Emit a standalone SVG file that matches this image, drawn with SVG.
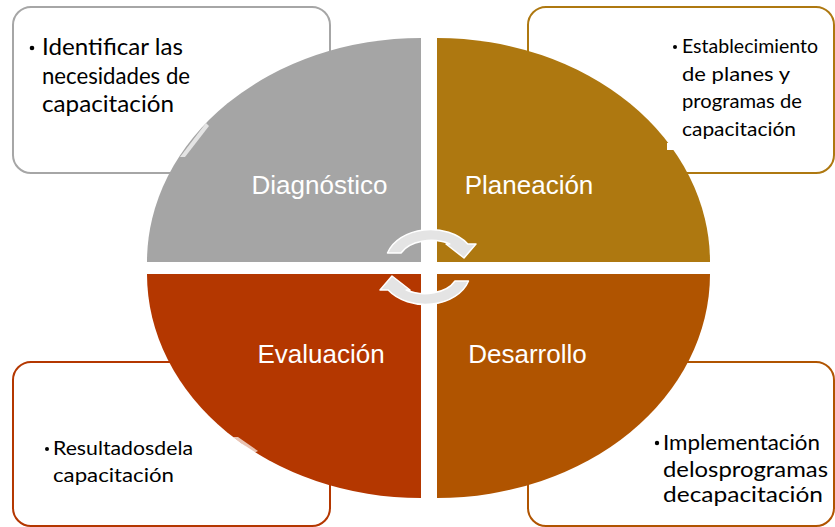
<svg xmlns="http://www.w3.org/2000/svg" width="835" height="527" viewBox="0 0 835 527">
<defs>
<style>
.box{fill:#ffffff;stroke-width:2}
.lbl{font-family:"Liberation Sans",Arial,sans-serif;font-size:26px;fill:#ffffff;text-anchor:middle}
.txt{font-family:Lato,"Noto Sans",sans-serif;fill:#000000}
.arrow{fill:#e4e4e4;stroke:#ffffff;stroke-width:1.5;stroke-linejoin:round}
</style>
<path id="cyc" d="M 387.5 253 A 45 33 0 0 1 467.8 244 L 476 244 L 464 258 L 446 244 L 449.8 244 A 33 21 0 0 0 401 253 Z"/>
</defs>
<rect width="835" height="527" fill="#ffffff"/>

<g id="box-diagnostico">
<rect class="box" x="13" y="7" width="317" height="166" rx="18" stroke="#a6a6a6"/>
<g class="txt" font-size="22.5">
<circle cx="32" cy="48" r="2.3" fill="#000"/>
<text x="42" y="55" textLength="141" lengthAdjust="spacingAndGlyphs">Identificar las</text>
<text x="42" y="84" textLength="148" lengthAdjust="spacingAndGlyphs">necesidades de</text>
<text x="42" y="112" textLength="132" lengthAdjust="spacingAndGlyphs">capacitación</text>
</g>
</g>

<g id="box-planeacion">
<rect class="box" x="528" y="7" width="306" height="166" rx="18" stroke="#ae7810"/>
<g class="txt" font-size="19">
<circle cx="675" cy="47" r="2" fill="#000"/>
<text x="682" y="53" textLength="136" lengthAdjust="spacingAndGlyphs">Establecimiento</text>
<text x="682" y="81" textLength="108" lengthAdjust="spacingAndGlyphs">de planes y</text>
<text x="682" y="108" textLength="120" lengthAdjust="spacingAndGlyphs">programas de</text>
<text x="682" y="136" textLength="114" lengthAdjust="spacingAndGlyphs">capacitación</text>
</g>
</g>

<g id="box-evaluacion">
<rect class="box" x="13" y="362" width="317" height="164" rx="18" stroke="#b43700"/>
<g class="txt" font-size="19.5">
<circle cx="47" cy="449" r="2" fill="#000"/>
<text x="53" y="455" textLength="140" lengthAdjust="spacingAndGlyphs">Resultadosdela</text>
<text x="53" y="482" textLength="121" lengthAdjust="spacingAndGlyphs">capacitación</text>
</g>
</g>

<g id="box-desarrollo">
<rect class="box" x="528" y="362" width="306" height="164" rx="18" stroke="#b05400"/>
<g class="txt" font-size="22">
<circle cx="657" cy="443" r="2.2" fill="#000"/>
<text x="663" y="450" textLength="157" lengthAdjust="spacingAndGlyphs">Implementación</text>
<text x="663" y="477" textLength="165" lengthAdjust="spacingAndGlyphs">delosprogramas</text>
<text x="663" y="502" textLength="160" lengthAdjust="spacingAndGlyphs">decapacitación</text>
</g>
</g>

<g id="diagnostico">
<path d="M 421 262 L 147 262 A 274 224 0 0 1 421 38 Z" fill="#a5a5a5"/>
<polygon points="206,123 209,126 185,157 180,157" fill="#ffffff" opacity="0.7"/>
<text class="lbl" x="319.5" y="194">Diagnóstico</text>
</g>

<g id="planeacion">
<path d="M 437 262 L 437 38 A 273 224 0 0 1 710 262 Z" fill="#ae7810"/>
<rect x="667" y="143" width="8" height="7" fill="#ffffff"/>
<text class="lbl" x="529" y="194">Planeación</text>
</g>

<g id="desarrollo">
<path d="M 437 274 L 710 274 A 273 224 0 0 1 437 498 Z" fill="#b05400"/>
<text class="lbl" x="527.5" y="363">Desarrollo</text>
</g>

<g id="evaluacion">
<path d="M 421 274 L 421 498 A 274 224 0 0 1 147 274 Z" fill="#b43700"/>
<polygon points="233,437 238,437 258,451 254,453" fill="#ffffff" opacity="0.7"/>
<text class="lbl" x="321" y="363">Evaluación</text>
</g>

<g id="connectors">
<use href="#cyc" class="arrow"/>
<use href="#cyc" class="arrow" transform="rotate(180 428 267)"/>
</g>
</svg>
